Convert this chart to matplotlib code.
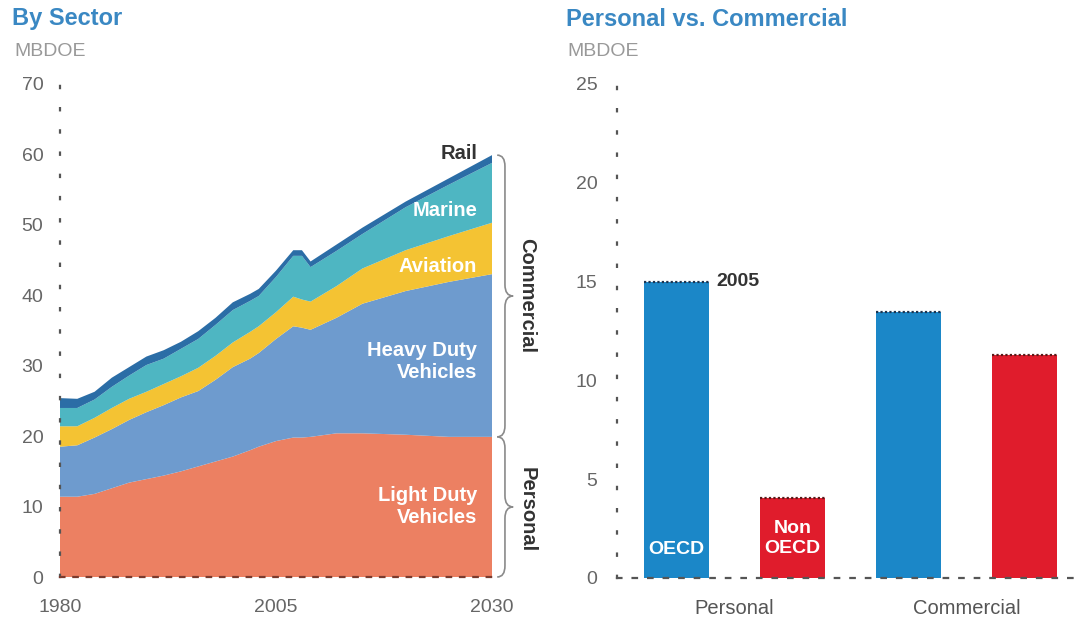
import numpy as np
import matplotlib.pyplot as plt
from matplotlib.path import Path
from matplotlib.patches import PathPatch
import matplotlib.transforms as mtransforms

plt.rcParams['font.family'] = ['Liberation Sans', 'DejaVu Sans']

# ---- data: by sector (MBDOE) ----
years = [1980, 1982, 1984, 1986, 1988, 1990, 1992, 1994, 1996, 1998, 2000,
         2002, 2003, 2005, 2007, 2008, 2009, 2012, 2015, 2020, 2025, 2030]
light_duty = [11.4, 11.4, 11.8, 12.6, 13.4, 13.9, 14.4, 15.0, 15.7, 16.4, 17.1,
              18.0, 18.5, 19.3, 19.8, 19.8, 19.9, 20.4, 20.4, 20.2, 19.9, 19.9]
heavy_duty = [7.1, 7.3, 8.0, 8.4, 8.9, 9.5, 10.0, 10.5, 10.7, 11.6, 12.7,
              13.0, 13.3, 14.5, 15.8, 15.6, 15.2, 16.4, 18.4, 20.4, 22.0, 23.1]
aviation = [2.9, 2.7, 2.8, 3.0, 3.0, 2.9, 3.0, 3.0, 3.3, 3.4, 3.5,
            3.8, 3.8, 3.8, 4.2, 4.0, 4.0, 4.5, 5.0, 5.8, 6.5, 7.3]
marine = [2.6, 2.6, 2.6, 3.0, 3.3, 3.8, 3.6, 3.9, 4.1, 4.4, 4.6,
          4.4, 4.3, 5.0, 5.8, 6.2, 4.9, 5.0, 4.9, 6.1, 7.3, 8.5]
rail = [1.4, 1.3, 1.1, 1.3, 1.2, 1.2, 1.2, 1.0, 1.1, 1.0, 1.1,
        1.0, 1.0, 0.9, 0.8, 0.8, 0.8, 0.9, 0.9, 0.8, 0.9, 1.1]

# ---- data: personal vs commercial, 2005 ----
groups = ['Personal', 'Commercial']
oecd = [15.0, 13.45]
non_oecd = [4.05, 11.3]

# colours
c_ldv = '#EC8062'
c_hdv = '#6E9BCE'
c_avi = '#F4C333'
c_mar = '#4EB6C2'
c_rail = '#2B6DA6'
c_blue = '#1B87C8'
c_red = '#E01C2C'
title_col = '#3A88C3'
tick_col = '#666666'

fig = plt.figure(figsize=(10.78, 6.21), dpi=100)
W, H = 1078, 621


def px_axes(x0, y0, x1, y1):
    # axes rectangle from pixel corners (top-left origin)
    return fig.add_axes([x0 / W, 1 - y1 / H, (x1 - x0) / W, (y1 - y0) / H])


# ================= left: stacked area =================
ax1 = px_axes(60, 84, 492, 577)
ax1.stackplot(years, light_duty, heavy_duty, aviation, marine, rail,
              colors=[c_ldv, c_hdv, c_avi, c_mar, c_rail], linewidth=0)
ax1.set_xlim(1980, 2030)
ax1.set_ylim(0, 70)
ax1.set_xticks([1980, 2005, 2030])
ax1.set_yticks(range(0, 71, 10))

for s in ['top', 'right']:
    ax1.spines[s].set_visible(False)
ax1.spines['left'].set_linestyle((0, (1, 9)))
ax1.spines['left'].set_linewidth(1.6)
ax1.spines['left'].set_color('#555555')
ax1.spines['bottom'].set_linestyle((0, (2, 4)))
ax1.spines['bottom'].set_linewidth(1.6)
ax1.spines['bottom'].set_color('#7a3b2e')
ax1.tick_params(length=0, labelsize=14, labelcolor=tick_col)
ax1.tick_params(axis='y', pad=12)
ax1.tick_params(axis='x', pad=16)

# in-chart labels
lab = dict(ha='right', va='center', fontsize=14.5, fontweight='bold', color='white')
ax1.text(2028.3, 60.1, 'Rail', **dict(lab, color='#333333'))
ax1.text(2028.3, 52.1, 'Marine', **lab)
ax1.text(2028.3, 44.1, 'Aviation', **lab)
ax1.text(2028.3, 30.6, 'Heavy Duty\nVehicles', linespacing=1.15, **lab)
ax1.text(2028.3, 10.0, 'Light Duty\nVehicles', linespacing=1.15, **lab)

# braces to the right of the area chart
total_end = sum(v[-1] for v in [light_duty, heavy_duty, aviation, marine, rail])
ldv_end = light_duty[-1]
trans = mtransforms.blended_transform_factory(ax1.transAxes, ax1.transData)


def brace(bot, top, x0=1.012, x1=1.030, x2=1.049, r=1.6):
    mid = (bot + top) / 2
    verts = [(x0, top), (x1, top), (x1, top - r),
             (x1, mid + r),
             (x1, mid), (x2, mid),
             (x1, mid), (x1, mid - r),
             (x1, bot + r),
             (x1, bot), (x0, bot)]
    codes = [Path.MOVETO, Path.CURVE3, Path.CURVE3,
             Path.LINETO,
             Path.CURVE3, Path.CURVE3,
             Path.CURVE3, Path.CURVE3,
             Path.LINETO,
             Path.CURVE3, Path.CURVE3]
    ax1.add_patch(PathPatch(Path(verts, codes), transform=trans, fill=False,
                            edgecolor='#8a8a8a', lw=1.2, clip_on=False))


brace(ldv_end, total_end)
brace(0, ldv_end)
ax1.text(1.081, (ldv_end + total_end) / 2, 'Commercial', transform=trans, rotation=270,
         ha='center', va='center', fontsize=14.5, fontweight='bold', color='#333333')
ax1.text(1.081, ldv_end / 2 - 0.4, 'Personal', transform=trans, rotation=270,
         ha='center', va='center', fontsize=14.5, fontweight='bold', color='#333333')

# ================= right: bars =================
ax2 = px_axes(617, 84, 1078, 578)
pos = np.arange(4)
vals = [oecd[0], non_oecd[0], oecd[1], non_oecd[1]]
cols = [c_blue, c_red, c_blue, c_red]
bw = 0.56
ax2.bar(pos, vals, width=bw, color=cols, linewidth=0, zorder=2)
ax2.hlines(vals, pos - bw / 2, pos + bw / 2, colors=['#1d3550', '#5a1a1a', '#1d3550', '#5a1a1a'],
           linestyles=(0, (1, 1)), linewidth=1.6, zorder=3)
ax2.set_xlim(-0.513, 3.461)
ax2.set_ylim(0, 25)
ax2.set_yticks(range(0, 26, 5))
ax2.set_xticks([0.5, 2.5])
ax2.set_xticklabels(groups)

for s in ['top', 'right']:
    ax2.spines[s].set_visible(False)
ax2.spines['left'].set_linestyle((0, (1, 9)))
ax2.spines['left'].set_linewidth(1.6)
ax2.spines['left'].set_color('#555555')
ax2.spines['bottom'].set_linestyle((0, (2, 5)))
ax2.spines['bottom'].set_linewidth(1.6)
ax2.spines['bottom'].set_color('#555555')
ax2.spines['bottom'].set_zorder(4)
ax2.tick_params(length=0, labelsize=14, labelcolor=tick_col)
ax2.tick_params(axis='y', pad=14)
ax2.tick_params(axis='x', pad=15)
for t in ax2.get_xticklabels():
    t.set_fontsize(14.5)
    t.set_color('#555555')

ax2.text(pos[0], 1.45, 'OECD', ha='center', va='center', fontsize=14,
         fontweight='bold', color='white', zorder=5)
ax2.text(pos[1], 2.0, 'Non\nOECD', ha='center', va='center', fontsize=14,
         fontweight='bold', color='white', linespacing=1.3, zorder=5)
ax2.text(pos[0] + bw / 2 + 0.06, oecd[0], '2005', ha='left', va='center', fontsize=14,
         fontweight='bold', color='#333333')

# ================= titles =================
fig.text(12 / W, 1 - 19 / H, 'By Sector', fontsize=17, fontweight='bold',
         color=title_col, ha='left', va='center')
fig.text(14 / W, 1 - 51 / H, 'MBDOE', fontsize=14, color='#999999', ha='left', va='center')
fig.text(566 / W, 1 - 19 / H, 'Personal vs. Commercial', fontsize=17, fontweight='bold',
         color=title_col, ha='left', va='center')
fig.text(567 / W, 1 - 51 / H, 'MBDOE', fontsize=14, color='#999999', ha='left', va='center')

fig.savefig('out.png', dpi=100)
